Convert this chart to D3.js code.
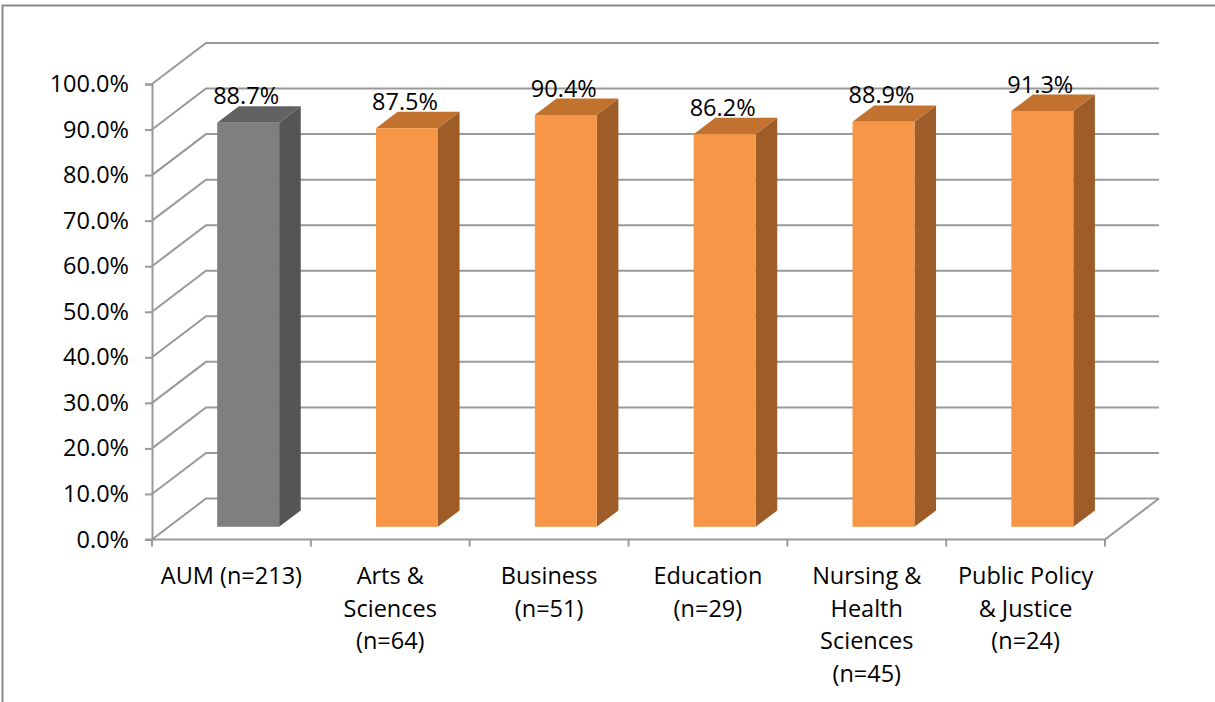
<!DOCTYPE html>
<html>
<head>
<meta charset="utf-8">
<script src="https://cdn.jsdelivr.net/npm/d3@7"></script>
<style>
  body { margin: 0; background: #fff; }
  text { font-family: "Open Sans", "Liberation Sans", sans-serif; fill: #000; }
</style>
</head>
<body>
<div class="canvas"></div>
<script>
// data
const categories = ['AUM (n=213)', 'Arts & Sciences (n=64)', 'Business (n=51)', 'Education (n=29)', 'Nursing & Health Sciences (n=45)', 'Public Policy & Justice (n=24)'];
const catLabels = [['AUM (n=213)'], ['Arts &', 'Sciences', '(n=64)'], ['Business', '(n=51)'], ['Education', '(n=29)'], ['Nursing &', 'Health', 'Sciences', '(n=45)'], ['Public Policy', '& Justice', '(n=24)']];
const values = [0.887, 0.875, 0.904, 0.862, 0.889, 0.913];
const yTicks = [0, 0.1, 0.2, 0.3, 0.4, 0.5, 0.6, 0.7, 0.8, 0.9, 1.0];

const dims = {width: 1215, height: 702};
const depth = {dx: 54, dy: 41};   // full floor depth offset
const barDepth = {front: 0.31, back: 0.71};
const gridCol = '#999999';
const fontSize = 23.5;

const svg = d3.select('.canvas')
    .append('svg')
    .attr('width', dims.width)
    .attr('height', dims.height);

// outer frame (top + left edges only visible)
svg.append('path')
    .attr('d', 'M2.5,702 L2.5,5.5 L1215,5.5')
    .attr('fill', 'none')
    .attr('stroke', '#888')
    .attr('stroke-width', 2);

const x = d3.scaleBand()
    .domain(categories)
    .range([152, 1105])
    .paddingInner(0)
    .paddingOuter(0);

const y = d3.scaleLinear()
    .domain([0, 1])
    .range([539.5, 84]);

const x0 = x.range()[0], x1 = x.range()[1];

// walls + gridlines
const grid = svg.append('g');
yTicks.forEach(t => {
    grid.append('polyline')
        .attr('points', [[x0, y(t)], [x0 + depth.dx, y(t) - depth.dy], [x1 + depth.dx, y(t) - depth.dy]].join(' '))
        .attr('fill', 'none')
        .attr('stroke', gridCol)
        .attr('stroke-width', 2);
});
// floor right edge
grid.append('line')
    .attr('x1', x1).attr('y1', y(0))
    .attr('x2', x1 + depth.dx).attr('y2', y(0) - depth.dy)
    .attr('stroke', gridCol).attr('stroke-width', 2);

// y axis
const yAxis = svg.append('g')
    .attr('transform', `translate(${x0},0)`)
    .call(d3.axisLeft(y).tickValues(yTicks).tickFormat(d3.format('.1%')).tickSize(7).tickPadding(16));
yAxis.select('.domain').attr('stroke', gridCol).attr('stroke-width', 2);
yAxis.selectAll('.tick line').attr('stroke', gridCol).attr('stroke-width', 2);
yAxis.selectAll('.tick text')
    .attr('font-size', fontSize)
    .style('font-family', '"Open Sans", "Liberation Sans", sans-serif')
    .attr('fill', '#000');

// x axis line + boundary ticks
svg.append('line')
    .attr('x1', x0 - 7).attr('x2', x1)
    .attr('y1', y(0)).attr('y2', y(0))
    .attr('stroke', gridCol).attr('stroke-width', 2);
const bounds = categories.map(c => x(c)).concat([x1]);
svg.selectAll('.xtick')
    .data(bounds)
    .enter()
    .append('line')
    .attr('class', 'xtick')
    .attr('x1', d => d).attr('x2', d => d)
    .attr('y1', y(0)).attr('y2', y(0) + 7)
    .attr('stroke', gridCol).attr('stroke-width', 2);

// x labels
const xl = svg.selectAll('.xlabel')
    .data(catLabels)
    .enter()
    .append('text')
    .attr('class', 'xlabel')
    .attr('text-anchor', 'middle')
    .attr('font-size', fontSize)
    .attr('transform', (d, i) => `translate(${x(categories[i]) + x.bandwidth() / 2},584)`);
xl.selectAll('tspan')
    .data(d => d)
    .enter()
    .append('tspan')
    .attr('x', 0)
    .attr('y', (d, i) => i * 32.5)
    .text(d => d);

// bars
const bw = x.bandwidth() * 0.39;
const pt = (px, v, d) => [px + depth.dx * d, y(v) - depth.dy * d];
const colours = [
    {front: '#7f7f7f', top: '#626262', side: '#555555'},
    {front: '#f79646', top: '#c2722f', side: '#9e5d28'}
];

const bars = svg.selectAll('.bar')
    .data(values)
    .enter()
    .append('g')
    .attr('class', 'bar');

bars.each(function (v, i) {
    const g = d3.select(this);
    const c = colours[i === 0 ? 0 : 1];
    const cx = x(categories[i]) + x.bandwidth() / 2;
    const l = cx - bw / 2, r = cx + bw / 2;
    const f = barDepth.front, b = barDepth.back;
    // side
    g.append('polygon')
        .attr('points', [pt(r, v, f), pt(r, v, b), pt(r, 0, b), pt(r, 0, f)].join(' '))
        .attr('fill', c.side);
    // top
    g.append('polygon')
        .attr('points', [pt(l, v, f), pt(r, v, f), pt(r, v, b), pt(l, v, b)].join(' '))
        .attr('fill', c.top);
    // front
    const p0 = pt(l, v, f), p1 = pt(r, 0, f);
    g.append('rect')
        .attr('x', p0[0]).attr('y', p0[1])
        .attr('width', p1[0] - p0[0]).attr('height', p1[1] - p0[1])
        .attr('fill', c.front);
    // value label
    g.append('text')
        .attr('x', p0[0] + (p1[0] - p0[0]) / 2 - 2)
        .attr('y', pt(l, v, b)[1] - 2)
        .attr('text-anchor', 'middle')
        .attr('font-size', fontSize)
        .text(d3.format('.1%')(v));
});
</script>
</body>
</html>
